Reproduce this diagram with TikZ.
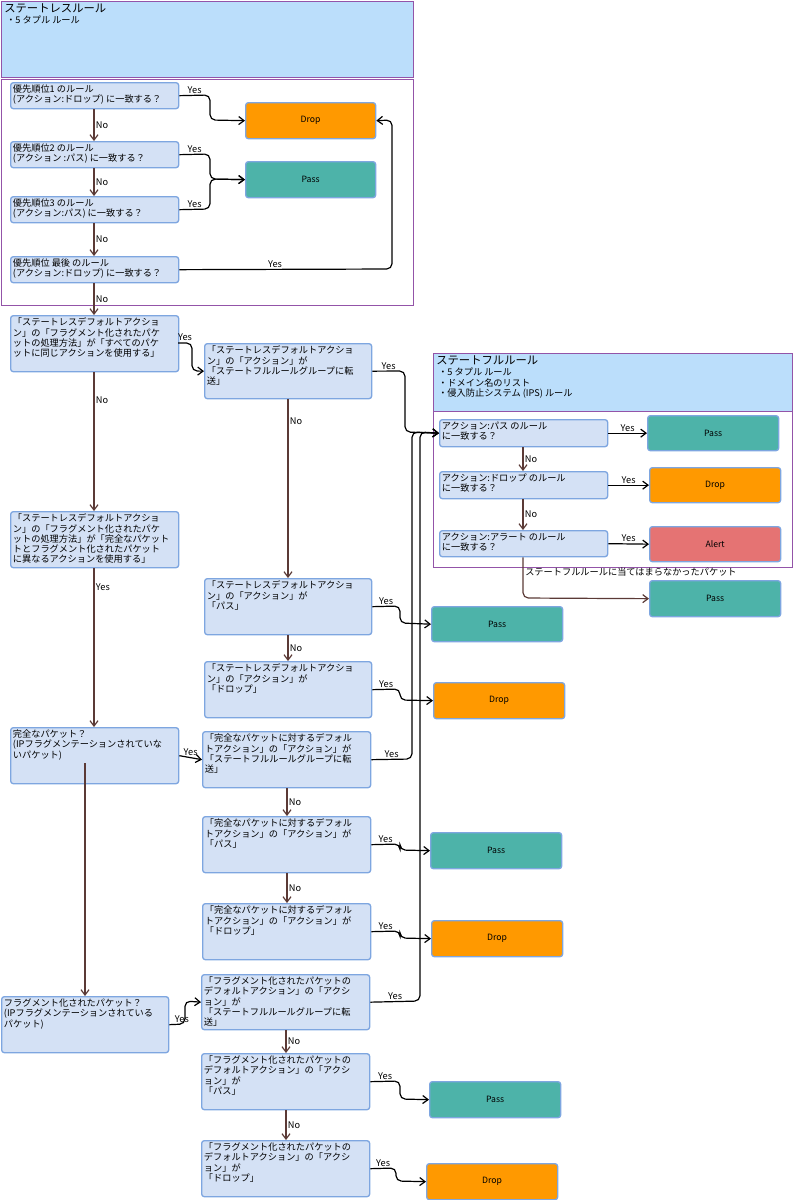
\documentclass[tikz,border=0pt]{standalone}
\usepackage{fontspec}
\setmainfont{Noto Sans CJK JP}
\usetikzlibrary{arrows.meta}
\definecolor{bfill}{HTML}{D4E1F5}
\definecolor{bline}{HTML}{7EA6E0}
\definecolor{hfill}{HTML}{BBDEFB}
\definecolor{purp}{HTML}{9354A8}
\definecolor{orng}{HTML}{FF9900}
\definecolor{teal2}{HTML}{4DB3A9}
\definecolor{alrt}{HTML}{E57373}
\definecolor{brn}{HTML}{5B3A36}
\tikzset{
 base/.style={draw, line width=1pt, rounded corners=2pt, inner sep=0pt, anchor=north west},
 q/.style={base, fill=bfill, draw=bline},
 pass/.style={base, fill=teal2, draw=bline},
 drop/.style={base, fill=orng, draw=bline},
 alert/.style={base, fill=alrt, draw=bline},
 grp/.style={draw=purp, line width=1pt, anchor=north west, inner sep=0pt},
 txt/.style={anchor=north west, align=left, inner sep=0pt, font=\fontsize{6.9}{7.7}\selectfont},
 lab/.style={font=\fontsize{6.9}{7.7}\selectfont, inner sep=1pt},
 no/.style={draw=brn, line width=0.9pt, -{Straight Barb[length=4pt,width=6pt]}},
 yes/.style={draw=black, line width=0.9pt, rounded corners=4pt, -{Straight Barb[length=4pt,width=6pt]}},
}
\newcommand\bx[7]{\node[#1, minimum width={#4*0.75pt}, minimum height={#5*0.75pt}] (#2) at (#3) {};
 \node[txt] (#2t) at ([shift={(2pt,-2pt)}]#2.north west) {#6};}
\newcommand\rb[6]{\node[#1, minimum width={#4*0.75pt}, minimum height={#5*0.75pt}, font=\fontsize{6.5}{7}\selectfont] (#2) at (#3) {#6};}
\begin{document}
\begin{tikzpicture}[x=0.75pt,y=-0.75pt]
\useasboundingbox (0,0) rectangle (793,1200);
% groups
\node[grp, fill=hfill, minimum width={412*0.75pt}, minimum height={76*0.75pt}] (h1) at (1,1) {};
\node[txt, font=\fontsize{8.5}{9}\selectfont] (h1t) at (4,3) {ステートレスルール};
\node[txt] (h1u) at (6,16) {・5 タプル ルール};
\node[grp, minimum width={412*0.75pt}, minimum height={226*0.75pt}] (g1) at (1,79) {};
\node[grp, fill=hfill, minimum width={359*0.75pt}, minimum height={58*0.75pt}] (h2) at (433,353) {};
\node[txt, font=\fontsize{8.5}{9}\selectfont] (h2t) at (436,355) {ステートフルルール};
\node[txt] (h2u) at (438,368) {・5 タプル ルール\\・ドメイン名のリスト\\・侵入防止システム (IPS) ルール};
\node[grp, minimum width={359*0.75pt}, minimum height={156*0.75pt}] (g2) at (433,411) {};
% stateless rules
\bx{q}{q1}{10,82}{168}{26}{優先順位1 のルール\\(アクション:ドロップ) に一致する？}{}
\bx{q}{q2}{10,141}{168}{26}{優先順位2 のルール\\(アクション :パス) に一致する？}{}
\bx{q}{q3}{10,196}{168}{26}{優先順位3 のルール\\(アクション:パス) に一致する？}{}
\bx{q}{q4}{10,256}{168}{26}{優先順位 最後 のルール\\(アクション:ドロップ) に一致する？}{}
\rb{drop}{d1}{245,102}{130}{36}{Drop}
\rb{pass}{p1}{245,161}{130}{36}{Pass}
% left column
\bx{q}{q5}{10,315}{168}{56}{「ステートレスデフォルトアクショ\\ン」の「フラグメント化されたパケ\\ットの処理方法」が「すべてのパケ\\ットに同じアクションを使用する」}{}
\bx{q}{q6}{10,511}{168}{56}{「ステートレスデフォルトアクショ\\ン」の「フラグメント化されたパケ\\ットの処理方法」が「完全なパケット\\トとフラグメント化されたパケット\\に異なるアクションを使用する」}{}
\bx{q}{q7}{10,727}{168}{56}{完全なパケット？\\(IPフラグメンテーションされていな\\いパケット)}{}
\bx{q}{q8}{1,996}{167}{56}{フラグメント化されたパケット？\\(IPフラグメンテーションされている\\パケット)}{}
% middle column
\bx{q}{b1}{204,343}{167}{55}{「ステートレスデフォルトアクショ\\ン」の「アクション」が\\「ステートフルルールグループに転\\送」}{}
\bx{q}{b2}{204,578}{167}{56}{「ステートレスデフォルトアクショ\\ン」の「アクション」が\\「パス」}{}
\bx{q}{b3}{204,661}{167}{56}{「ステートレスデフォルトアクショ\\ン」の「アクション」が\\「ドロップ」}{}
\bx{q}{b4}{202,731}{168}{56}{「完全なパケットに対するデフォル\\トアクション」の「アクション」が\\「ステートフルルールグループに転\\送」}{}
\bx{q}{b5}{202,816}{168}{56}{「完全なパケットに対するデフォル\\トアクション」の「アクション」が\\「パス」}{}
\bx{q}{b6}{202,903}{168}{56}{「完全なパケットに対するデフォル\\トアクション」の「アクション」が\\「ドロップ」}{}
\bx{q}{b7}{201,974}{168}{55}{「フラグメント化されたパケットの\\デフォルトアクション」の「アクシ\\ョン」が\\「ステートフルルールグループに転\\送」}{}
\bx{q}{b8}{201,1053}{168}{56}{「フラグメント化されたパケットの\\デフォルトアクション」の「アクシ\\ョン」が\\「パス」}{}
\bx{q}{b9}{201,1140}{168}{56}{「フラグメント化されたパケットの\\デフォルトアクション」の「アクシ\\ョン」が\\「ドロップ」}{}
\rb{pass}{p4}{431,606}{131}{35}{Pass}
\rb{drop}{d4}{433,682}{131}{36}{Drop}
\rb{pass}{p5}{430,832}{131}{36}{Pass}
\rb{drop}{d5}{431,920}{131}{36}{Drop}
\rb{pass}{p6}{429,1081}{131}{36}{Pass}
\rb{drop}{d6}{426,1163}{131}{36}{Drop}
% stateful
\bx{q}{s1}{439,419}{168}{27}{アクション:パス のルール\\に一致する？}{}
\bx{q}{s2}{439,471}{168}{27}{アクション:ドロップ のルール\\に一致する？}{}
\bx{q}{s3}{439,530}{168}{26}{アクション:アラート のルール\\に一致する？}{}
\rb{pass}{p2}{647,415}{131}{35}{Pass}
\rb{drop}{d2}{649,467}{131}{35}{Drop}
\rb{alert}{a2}{649,526}{131}{35}{Alert}
\rb{pass}{p3}{649,580}{131}{36}{Pass}
% No arrows
\draw[no] (q1.south -| 94,0) -- node[lab,right]{No} (q2.north -| 94,0);
\draw[no] (q2.south -| 94,0) -- node[lab,right]{No} (q3.north -| 94,0);
\draw[no] (q3.south -| 94,0) -- node[lab,right]{No} (q4.north -| 94,0);
\draw[no] (q4.south -| 94,0) -- node[lab,right]{No} (q5.north -| 94,0);
\draw[no] (q5.south -| 94,0) -- node[lab,right,pos=0.2]{No} (q6.north -| 94,0);
\draw[no] (q6.south -| 94,0) -- node[lab,right,pos=0.12]{Yes} (q7.north -| 94,0);
\coordinate (q7in) at (85,763);
\draw[no] (q7in) -- (q8.north -| 85,0);
\draw[no] (b1.south -| 288,0) -- node[lab,right,pos=0.12]{No} (b2.north -| 288,0);
\draw[no] (b2.south -| 288,0) -- node[lab,right]{No} (b3.north -| 288,0);
\draw[no] (b4.south -| 287,0) -- node[lab,right]{No} (b5.north -| 287,0);
\draw[no] (b5.south -| 287,0) -- node[lab,right]{No} (b6.north -| 287,0);
\draw[no] (b7.south -| 286,0) -- node[lab,right]{No} (b8.north -| 286,0);
\draw[no] (b8.south -| 286,0) -- node[lab,right]{No} (b9.north -| 286,0);
\draw[no] (s1.south -| 523,0) -- node[lab,right]{No} (s2.north -| 523,0);
\draw[no] (s2.south -| 523,0) -- node[lab,right]{No} (s3.north -| 523,0);
\draw[no,rounded corners=4pt] (s3.south -| 523,0) -- (523,598) -- (p3.west);
\node[txt] (nm) at (525,567) {ステートフルルールに当てはまらなかったパケット};
% Yes arrows stateless rules
\draw[yes] (q1.east) -- node[lab,above,pos=0.5]{Yes} (210,95) -- (210,120) -- (d1.west);
\draw[yes] (q2.east) -- node[lab,above]{Yes} (210,154) -- (210,179) -- (p1.west);
\draw[yes] (q3.east) -- node[lab,above]{Yes} (210,209) -- (210,179) -- (p1.west);
\draw[yes] (q4.east) -- node[lab,above,pos=0.45]{Yes} (392,269) -- (392,120) -- (d1.east);
% Yes main
\draw[yes] (178,343) -- node[lab,above]{Yes} (192,343) -- (192,371) -- (b1.west);
\draw[yes] (b1.east) -- node[lab,above]{Yes} (405,371) -- (405,432) -- (s1.west);
\draw[yes] (b4.east) -- node[lab,above]{Yes} (412,759) -- (412,432) -- (s1.west);
\draw[yes] (b7.east) -- node[lab,above]{Yes} (420,1001) -- (420,432) -- (s1.west);
\draw[yes] (q7.east) -- node[lab,above]{Yes} (b4.west);
\draw[yes] (q8.east) -- node[lab,above,pos=0.8]{Yes} (185,1024) -- (185,1001) -- (b7.west);
\draw[yes] (b2.east) -- node[lab,above]{Yes} (400,606) -- (400,623) -- (p4.west);
\draw[yes] (b3.east) -- node[lab,above]{Yes} (400,689) -- (400,700) -- (d4.west);
\draw[yes] (b5.east) -- node[lab,above]{Yes} (400,844) -- (400,850) -- (p5.west);
\draw[yes] (b6.east) -- node[lab,above]{Yes} (400,931) -- (400,938) -- (d5.west);
\draw[yes] (b8.east) -- node[lab,above]{Yes} (400,1081) -- (400,1099) -- (p6.west);
\draw[yes] (b9.east) -- node[lab,above]{Yes} (396,1168) -- (396,1181) -- (d6.west);
\draw[yes] (s1.east) -- node[lab,above]{Yes} (p2.west);
\draw[yes] (s2.east) -- node[lab,above]{Yes} (d2.west);
\draw[yes] (s3.east) -- node[lab,above]{Yes} (a2.west);
\end{tikzpicture}
\end{document}
